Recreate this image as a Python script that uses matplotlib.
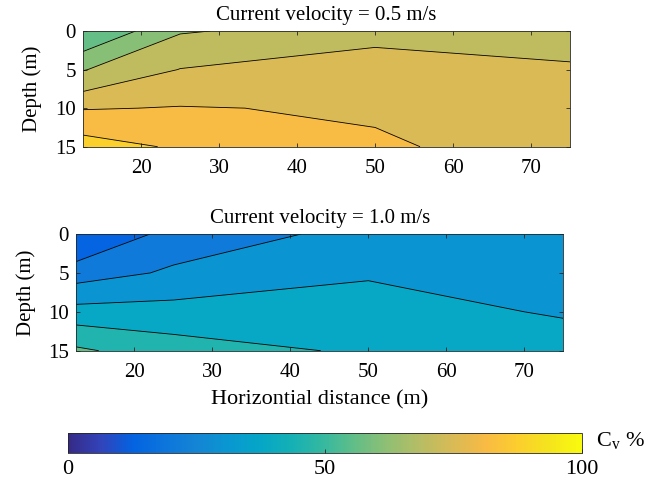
import numpy as np
import matplotlib
matplotlib.use("Agg")
import matplotlib.pyplot as plt
from matplotlib.colors import LinearSegmentedColormap, Normalize
from matplotlib.cm import ScalarMappable

plt.rcParams['font.family'] = 'Liberation Serif'
plt.rcParams['mathtext.fontset'] = 'custom'
plt.rcParams['mathtext.rm'] = 'Liberation Serif'
plt.rcParams['font.size'] = 15

# grid of the section
distance = [12.5, 25, 50, 75]
depth = [0, 5, 10, 15]

# Cv (%) at the grid nodes, rows = depth
cv_slow = [[50.5, 63.4, 67.3, 67.0],
           [63.6, 71.2, 76.0, 72.0],
           [76.6, 77.3, 76.4, 74.0],
           [86.5, 82.6, 77.6, 75.0]]
cv_fast = [[5.0, 19.5, 27.9, 28.0],
           [20.5, 26.4, 33.5, 30.0],
           [37.2, 37.3, 36.0, 33.5],
           [51.4, 45.4, 40.9, 36.5]]

levels_slow = [0, 57.5, 64, 71, 77, 83.5, 100]
levels_fast = [0, 16, 25, 34, 42, 50, 100]
# colour value (Cv %) used to fill each band
band_slow = [56, 61, 70, 75, 81, 88]
band_fast = [13, 21, 30, 38, 46, 56]

titles = ["Current velocity = 0.5 m/s", "Current velocity = 1.0 m/s"]
xticks = [20, 30, 40, 50, 60, 70]
yticks = [0, 5, 10, 15]

# parula-like colormap
parula = LinearSegmentedColormap.from_list("parula", [
    (0.2081, 0.1663, 0.5292), (0.1959, 0.2645, 0.7279), (0.0117, 0.3875, 0.8820),
    (0.0498, 0.4586, 0.8641), (0.0793, 0.5200, 0.8312), (0.0343, 0.5966, 0.8199),
    (0.0228, 0.6535, 0.7768), (0.0843, 0.6928, 0.7062), (0.2178, 0.7250, 0.6193),
    (0.3953, 0.7459, 0.5244), (0.5709, 0.7485, 0.4494), (0.7184, 0.7411, 0.3905),
    (0.8507, 0.7299, 0.3360), (0.9739, 0.7314, 0.2666), (0.9880, 0.8066, 0.1794),
    (0.9589, 0.8949, 0.1132), (0.9763, 0.9831, 0.0538)], N=256)
norm = Normalize(0, 100)

fig = plt.figure(figsize=(6.57, 4.82), dpi=100)
ax1 = fig.add_axes([0.1259, 0.6956, 0.7417, 0.2401])
ax2 = fig.add_axes([0.1157, 0.2724, 0.7417, 0.2421])

X, Y = np.meshgrid(distance, depth)
for ax, data, lev, band, title in [(ax1, cv_slow, levels_slow, band_slow, titles[0]),
                                   (ax2, cv_fast, levels_fast, band_fast, titles[1])]:
    Z = np.array(data)
    cols = [parula(norm(v)) for v in band]
    ax.contourf(X, Y, Z, levels=lev, colors=cols)
    ax.contour(X, Y, Z, levels=lev[1:-1], colors='k', linewidths=0.6)
    ax.set_xlim(12.5, 75)
    ax.set_ylim(15, 0)
    ax.set_xticks(xticks)
    ax.set_yticks(yticks)
    ax.tick_params(direction='in', top=True, right=True, length=3, width=0.6,
                   color='#262626', labelsize=15)
    ax.tick_params(axis='x', pad=9)
    ax.tick_params(axis='y', pad=5)
    for s in ax.spines.values():
        s.set_color('#262626')
        s.set_linewidth(0.6)
    ax.set_title(title, fontsize=15, pad=8)
    ax.set_ylabel("Depth (m)", fontsize=15, labelpad=9)

ax2.set_xlabel("Horizontial distance (m)", fontsize=16, labelpad=6)

cax = fig.add_axes([0.1035, 0.0602, 0.7823, 0.0415])
cb = fig.colorbar(ScalarMappable(norm=norm, cmap=parula), cax=cax, orientation='horizontal')
cb.set_ticks([0, 50, 100])
cb.ax.tick_params(direction='in', length=3, width=0.6, color='#262626', labelsize=16, pad=5)
cb.outline.set_edgecolor('#262626')
cb.outline.set_linewidth(0.6)
fig.text(0.907, 0.085, r'C$_{\mathrm{v}}$ %', fontsize=16, va='center', ha='left')

fig.savefig("out.png", dpi=100)
